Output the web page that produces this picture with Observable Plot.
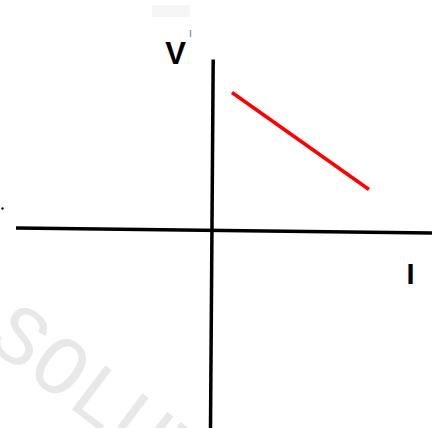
<!DOCTYPE html>
<html><head><meta charset="utf-8">
<script src="https://cdn.jsdelivr.net/npm/d3@7"></script>
<script src="https://cdn.jsdelivr.net/npm/@observablehq/plot@0.6"></script>
<style>html,body{margin:0;padding:0;background:#fff;overflow:hidden}</style>
</head><body><div id="chart"></div>
<script>
// Conceptual V–I graph (arbitrary units)
const lineI = [1.0, 7.85];
const lineV = [6.85, 2.0];
// hand-drawn axes (slightly slanted)
const hAxisX = [-9.8, 11.05];
const hAxisY = [0.08, -0.18];
const vAxisX = [0.06, -0.075];
const vAxisY = [8.5, -9.95];
const labelText = ["V", "I"];
const labelX = [-1.825, 9.925];
const labelY = [8.75, -2.275];
const labelSize = [31, 29];
const strayX = [-10.475];
const strayY = [1.05];
const tickX = [-1.075];
const tickY1 = [9.95];
const tickY2 = [9.6];
const patchX1 = [-2.975];
const patchX2 = [-1.075];
const patchY1 = [10.6];
const patchY2 = [11.2];
const watermark = ["SOLUTIONS"];
const wmX = [-10.6];
const wmY = [-4.6];

const idx2 = [0, 1];
const chart = Plot.plot({
  width: 432, height: 428,
  margin: 0,
  style: {background: "#fff"},
  x: {domain: [-10.575, 11.025], axis: null},
  y: {domain: [-9.95, 11.45], axis: null},
  marks: [
    Plot.rect([0], {x1: patchX1[0], x2: patchX2[0], y1: patchY1[0], y2: patchY2[0], fill: "#f6f6f6"}),
    Plot.text(watermark, {x: (d,i) => wmX[i], y: (d,i) => wmY[i], text: d => d,
      rotate: 37, fontSize: 84, fontFamily: "Liberation Mono", fill: "#e8e8e8",
      stroke: "#fff", strokeWidth: 3.5, textAnchor: "start"}),
    Plot.line(idx2, {x: i => hAxisX[i], y: i => hAxisY[i], stroke: "#000", strokeWidth: 3.5, strokeLinecap: "butt"}),
    Plot.line(idx2, {x: i => vAxisX[i], y: i => vAxisY[i], stroke: "#000", strokeWidth: 3.5, strokeLinecap: "butt"}),
    Plot.line(idx2, {x: i => lineI[i], y: i => lineV[i], stroke: "#ff0000", strokeWidth: 3.5, strokeLinecap: "butt"}),
    Plot.ruleX(tickX, {y1: tickY1[0], y2: tickY2[0], stroke: "#999", strokeWidth: 1.5}),
    Plot.dot(strayX, {x: d => d, y: (d,i) => strayY[i], r: 1.2, fill: "#000", stroke: null}),
    Plot.text(labelText, {x: (d,i) => labelX[i], y: (d,i) => labelY[i], text: d => d,
      fontSize: (d,i) => labelSize[i], fontWeight: "bold", fontFamily: "Liberation Sans", fill: "#000"})
  ]
});
document.getElementById("chart").appendChild(chart);
</script>
</body></html>
